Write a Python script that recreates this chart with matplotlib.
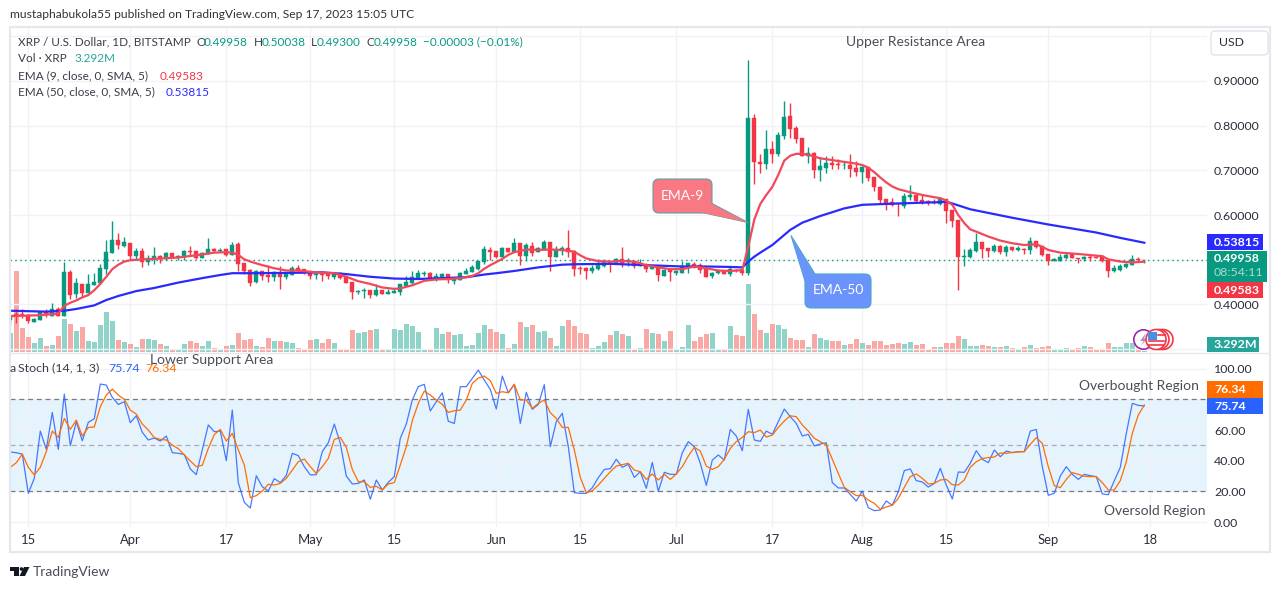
import matplotlib
matplotlib.use('Agg')
import matplotlib.pyplot as plt
import numpy as np
import pandas as pd
from matplotlib.patches import Circle, FancyBboxPatch, Polygon, Rectangle

plt.rcParams['font.family'] = ['Lato', 'DejaVu Sans']

GREEN = '#089981'
RED = '#f23645'
GRID = '#f1f2f6'
TEXT = '#3a3e49'

# daily candles, 12 Mar to 17 Sep 2023
opens = [.366, .378, .378, .376, .361, .365, .384, .375, .389, .374, .472, .423, .446, .426, .443, .448, .479, .515, .544, .531,
         .538, .508, .520, .495, .502, .508, .502, .515, .506, .506, .520, .520, .504, .513, .524, .520, .524, .511, .535, .493,
         .477, .450, .475, .466, .461, .470, .461, .466, .482, .479, .475, .466, .468, .468, .461, .470, .461, .450, .428, .430,
         .432, .421, .432, .423, .426, .428, .441, .448, .459, .468, .470, .457, .459, .468, .452, .455, .468, .473, .479, .495,
         .522, .520, .506, .526, .517, .538, .508, .531, .517, .522, .540, .506, .520, .526, .520, .482, .482, .474, .479, .486,
         .495, .493, .502, .497, .497, .486, .488, .479, .486, .464, .477, .470, .470, .482, .491, .488, .479, .464, .470, .474,
         .468, .477, .477, .470, .817, .719, .714, .748, .737, .777, .822, .795, .773, .732, .739, .701, .705, .717, .714, .712,
         .712, .705, .696, .708, .685, .663, .636, .629, .627, .620, .640, .645, .634, .632, .630, .625, .636, .611, .589, .506,
         .506, .520, .540, .526, .520, .531, .517, .529, .523, .525, .522, .542, .531, .513, .497, .497, .504, .513, .505, .502,
         .506, .506, .508, .499, .475, .477, .484, .488, .501, .49958]
highs = [.378, .389, .390, .379, .370, .385, .391, .403, .394, .495, .477, .459, .446, .468, .470, .491, .544, .587, .560, .551,
         .538, .526, .526, .511, .529, .511, .517, .515, .511, .522, .531, .520, .517, .549, .526, .526, .524, .540, .540, .493,
         .479, .477, .475, .488, .475, .486, .473, .486, .488, .479, .475, .473, .473, .470, .473, .473, .466, .450, .432, .437,
         .432, .446, .432, .435, .435, .446, .464, .475, .477, .475, .473, .470, .470, .468, .459, .473, .482, .488, .497, .531,
         .529, .520, .529, .526, .549, .538, .538, .540, .529, .544, .540, .531, .531, .567, .522, .486, .484, .488, .502, .502,
         .497, .504, .529, .504, .497, .502, .493, .486, .486, .479, .479, .477, .497, .493, .495, .493, .486, .473, .477, .477,
         .484, .479, .479, .947, .826, .737, .790, .766, .786, .855, .851, .799, .773, .752, .741, .730, .732, .732, .726, .719,
         .737, .721, .710, .708, .685, .665, .636, .638, .627, .650, .667, .645, .645, .634, .636, .637, .636, .611, .589, .524,
         .526, .560, .540, .526, .535, .533, .533, .529, .531, .526, .551, .542, .531, .513, .504, .513, .515, .513, .505, .508,
         .511, .508, .508, .502, .488, .491, .493, .511, .506, .50038]
lows = [.354, .359, .369, .358, .361, .365, .373, .374, .374, .374, .412, .414, .416, .426, .443, .446, .468, .515, .524, .529,
        .499, .502, .484, .488, .491, .493, .499, .504, .499, .499, .508, .502, .504, .513, .517, .517, .508, .511, .475, .468,
        .441, .448, .455, .450, .452, .435, .457, .466, .473, .468, .457, .457, .452, .457, .457, .457, .448, .412, .423, .414,
        .414, .419, .423, .423, .426, .421, .441, .446, .457, .464, .455, .452, .457, .448, .446, .455, .468, .473, .477, .491,
        .499, .504, .506, .517, .517, .488, .497, .508, .517, .522, .475, .506, .511, .506, .464, .468, .457, .470, .477, .484,
        .473, .493, .484, .486, .482, .486, .473, .479, .452, .464, .452, .466, .470, .470, .482, .470, .461, .459, .468, .468,
        .464, .473, .466, .466, .670, .694, .703, .717, .732, .770, .773, .761, .732, .717, .683, .676, .694, .703, .703, .703,
        .685, .688, .672, .676, .654, .627, .612, .620, .598, .616, .634, .627, .625, .623, .625, .623, .582, .573, .432, .486,
        .504, .517, .504, .506, .517, .513, .508, .520, .520, .513, .513, .526, .509, .488, .497, .497, .502, .504, .493, .497,
        .497, .503, .495, .462, .473, .475, .482, .488, .497, .49300]
closes = [.376, .376, .376, .362, .367, .383, .376, .389, .374, .472, .421, .447, .426, .446, .450, .482, .517, .544, .533, .540,
          .508, .520, .495, .504, .508, .502, .515, .504, .508, .520, .517, .504, .515, .524, .520, .522, .511, .533, .491, .475,
          .448, .475, .464, .461, .473, .461, .470, .482, .475, .470, .464, .468, .466, .464, .470, .459, .448, .428, .430, .432,
          .421, .432, .423, .428, .430, .446, .450, .461, .470, .470, .457, .464, .468, .455, .457, .470, .475, .484, .497, .524,
          .518, .506, .526, .517, .538, .508, .533, .515, .526, .540, .506, .522, .526, .517, .479, .479, .475, .482, .488, .497,
          .493, .502, .493, .499, .486, .493, .479, .486, .466, .477, .473, .475, .486, .493, .484, .477, .461, .470, .474, .468,
          .479, .475, .470, .817, .719, .714, .748, .737, .779, .819, .793, .770, .732, .739, .701, .710, .717, .712, .713, .713,
          .703, .696, .708, .683, .663, .634, .625, .623, .625, .643, .645, .632, .629, .627, .627, .636, .609, .587, .506, .508,
          .522, .540, .524, .520, .531, .517, .529, .522, .527, .523, .542, .529, .511, .497, .502, .506, .511, .504, .502, .506,
          .504, .505, .497, .475, .482, .486, .491, .502, .499, .49958]

# volume in millions
volumes = [62, 267, 79, 50, 29, 46, 20, 23, 53, 109, 92, 69, 83, 36, 33, 89, 132, 102, 40, 33,
           26, 17, 43, 43, 40, 26, 20, 10, 10, 26, 36, 30, 20, 36, 13, 10, 20, 23, 63, 40,
           43, 20, 17, 46, 36, 36, 33, 30, 13, 10, 40, 43, 30, 43, 30, 10, 10, 73, 63, 66,
           73, 76, 7, 10, 76, 73, 92, 86, 66, 10, 10, 79, 59, 66, 56, 59, 20, 23, 63, 89,
           76, 66, 59, 13, 26, 99, 83, 89, 66, 69, 46, 20, 86, 106, 86, 63, 59, 13, 20, 33,
           56, 69, 59, 53, 10, 13, 76, 63, 59, 36, 69, 7, 17, 89, 36, 50, 59, 63, 7, 10,
           86, 56, 53, 224, 125, 73, 62, 92, 89, 76, 46, 40, 40, 15, 59, 46, 40, 35, 37, 22,
           26, 44, 29, 22, 37, 35, 22, 26, 31, 26, 33, 22, 26, 11, 15, 15, 30, 30, 53, 43,
           20, 20, 23, 20, 17, 17, 20, 13, 10, 17, 23, 13, 17, 20, 10, 10, 13, 10, 13, 20,
           17, 7, 10, 30, 17, 17, 30, 30, 7, 3.292]

ema9_days = [0, 5, 8, 9, 10, 11, 12, 13, 14, 15, 16, 17, 18, 19, 20, 22, 24, 28, 32, 34, 36, 37, 38, 39, 40, 41, 42, 44, 46, 48,
             50, 52, 54, 56, 58, 60, 62, 64, 65, 67, 69, 71, 73, 75, 77, 78, 79, 80, 81, 82, 83, 84, 86, 88, 90, 92, 94, 95, 96, 98,
             100, 102, 104, 106, 108, 110, 112, 114, 116, 118, 120, 122, 123, 124, 125, 126, 127, 128, 129, 130, 131, 132, 133, 135,
             138, 141, 142, 143, 144, 145, 146, 147, 148, 150, 152, 154, 155, 156, 157, 158, 159, 160, 161, 163, 165, 167, 169, 171,
             172, 173, 175, 178, 182, 183, 185, 187, 189]
ema9_vals = [.374, .376, .380, .397, .404, .409, .416, .421, .432, .446, .462, .479, .489, .496, .499, .501, .502, .505, .512, .516,
             .517, .516, .511, .501, .496, .492, .488, .481, .476, .476, .473, .471, .470, .462, .452, .446, .438, .435, .436, .443,
             .453, .456, .457, .459, .464, .470, .480, .488, .495, .502, .511, .517, .523, .522, .523, .522, .518, .510, .503, .497,
             .496, .497, .496, .488, .483, .479, .479, .485, .481, .476, .475, .477, .530, .590, .625, .645, .663, .690, .722, .733,
             .737, .737, .735, .727, .721, .715, .712, .706, .696, .684, .673, .664, .658, .651, .645, .640, .638, .632, .623, .600,
             .582, .568, .563, .552, .543, .537, .533, .535, .529, .522, .516, .513, .508, .501, .496, .494, .49583]

ema50_days = [0, 3, 6, 9, 11, 14, 16, 18, 21, 24, 28, 32, 35, 37, 41, 48, 52, 56, 60, 64, 68, 72, 76, 79, 81, 84, 88, 92, 94, 100,
              106, 112, 116, 120, 122, 123, 124, 125, 127, 130, 132, 135, 139, 142, 148, 155, 156, 157, 160, 167, 173, 181, 185, 189]
ema50_vals = [.386, .385, .384, .386, .390, .398, .410, .419, .430, .437, .449, .459, .466, .470, .470, .471, .472, .468, .462, .458,
              .457, .459, .461, .467, .470, .475, .483, .489, .490, .491, .488, .485, .485, .484, .483, .496, .507, .516, .533, .567,
              .583, .598, .615, .623, .626, .629, .630, .626, .613, .594, .579, .561, .549, .53815]

stoch_k = [45.7, 45.2, 44.3, 18.7, 28.5, 59.3, 47.4, 71.5, 47.4, 83.5, 49.8, 65.4, 53, 65, 67.4, 90, 89.3, 81.3, 76.7, 78.5,
           64.8, 69.3, 58.5, 53.5, 54.8, 52.8, 56.1, 45.2, 44.8, 44.1, 34.6, 30.9, 47, 63.3, 58.9, 59.3, 40, 73, 25.7, 12.8,
           9.1, 30.2, 23, 20.2, 28.3, 25.7, 30.4, 44.8, 43.3, 36.1, 30.7, 30.9, 45.9, 51.7, 63.9, 51.3, 30, 24.8, 25.2, 27.4,
           14.8, 27.4, 20.9, 25.9, 29.6, 54.6, 63.9, 79.6, 88.3, 89.8, 72.4, 78.5, 84.3, 65.7, 64.3, 88.3, 88.3, 93.7, 99.1, 92.6,
           86.5, 73.7, 95.2, 84.3, 89.8, 64.3, 84.6, 73.5, 76.7, 89.6, 49.1, 65.4, 70.9, 49.1, 19.1, 18.7, 18.7, 22.4, 28.9, 34.3,
           34.8, 40.9, 35.7, 37.6, 29.1, 32.8, 22, 38.9, 20, 32.4, 31.1, 31.1, 45.2, 52.4, 49.1, 38.3, 23.9, 40.4, 43.7, 40.4,
           60.4, 56.1, 46.5, 73.5, 53.5, 52.6, 59.3, 57.2, 65.4, 73.7, 68.7, 64.3, 56.1, 57.2, 49.6, 50.9, 51.7, 25.7, 22.2, 22.2,
           18, 13.7, 20.2, 9.3, 7.4, 7.8, 13.7, 10.9, 19.8, 33.5, 34.6, 27, 26.1, 22.8, 25.2, 35, 24.1, 15, 32.6, 32.4,
           38.3, 46.5, 40.9, 38.7, 47, 42.6, 46.3, 45.2, 45.9, 45.9, 59.3, 60.4, 36.1, 17.4, 18.7, 30, 36.1, 31.1, 27.8, 31.1,
           30.2, 29.6, 18.3, 17.8, 26.9, 35.7, 57.8, 77.4, 76.1, 75.74]
stoch_d = [35.7, 38.7, 44.3, 35.7, 30.7, 35.7, 45.9, 59.3, 55.2, 67.6, 60.4, 66.5, 56.1, 61.7, 62, 75.2, 82.8, 86.7, 82.8, 80,
           73, 70.4, 63.9, 60, 55, 53.9, 53.5, 50.2, 47.8, 43.7, 39.8, 36.1, 37, 48, 57, 60.4, 52.8, 57.8, 47, 37.2,
           15.9, 17.2, 20.2, 24.6, 24.1, 25.2, 28.5, 33.9, 39.3, 41.1, 36.1, 31.7, 36.1, 41.5, 53.9, 55.2, 48.7, 34.3, 26.3, 26.3,
           22.6, 23.3, 20.9, 24.8, 25.7, 37.2, 49.1, 66.1, 77.4, 85.4, 82.8, 79.6, 76.7, 71.5, 72.6, 73, 79.6, 90.4, 93.9, 95.2,
           92.2, 83.9, 85, 84.3, 89.8, 79.6, 79.6, 74.1, 77.4, 79.6, 71.3, 67.6, 61.7, 61.7, 47, 29.1, 19.1, 20.4, 24.1, 28.5,
           32.8, 36.5, 37.4, 38.3, 33.9, 32.8, 27.8, 31.3, 27.4, 31.1, 27.8, 31.3, 36.1, 43, 48.7, 46.3, 36.5, 34.3, 36.1, 40.9,
           48, 52.4, 55.2, 58.9, 58.3, 60, 55.4, 56.7, 61.7, 65.9, 69.3, 68.7, 63.3, 59.3, 54.6, 52.4, 50.2, 40.9, 31.7, 22.6,
           19.8, 17.2, 17.4, 14.3, 12.2, 8.3, 9.8, 10.9, 15.4, 22.6, 29.6, 31.3, 28.5, 24.8, 25.2, 27.4, 27.8, 24.3, 24.1, 27.4,
           35.7, 39.3, 41.5, 42, 42.4, 45, 44.8, 45.4, 45.7, 45.9, 50.7, 55, 51.3, 36.1, 23.7, 22.4, 27.8, 32.2, 31.1, 29.8,
           29.6, 29.6, 25.7, 20.9, 20.9, 27, 39.3, 57.8, 69.8, 76.34]

tick_dates = ['2023-03-15', '2023-04-01', '2023-04-17', '2023-05-01', '2023-05-15', '2023-06-01', '2023-06-15',
              '2023-07-01', '2023-07-17', '2023-08-01', '2023-08-15', '2023-09-01', '2023-09-18']
tick_labels = ['15', 'Apr', '17', 'May', '15', 'Jun', '15', 'Jul', '17', 'Aug', '15', 'Sep', '18']
price_ticks = [.3, .4, .5, .6, .7, .8, .9, 1.0]
price_tick_labels = ['', '0.40000', '', '0.60000', '0.70000', '0.80000', '0.90000', '']
stoch_ticks = [0, 20, 40, 60, 100]

W, H = 1281, 589
fig = plt.figure(figsize=(W / 100, H / 100), dpi=100, facecolor='white')


def pane(left, top, right, bottom, **kw):
    return fig.add_axes([left / W, 1 - bottom / H, (right - left) / W, (bottom - top) / H], **kw)


x = np.arange(len(closes))
ticks_x = [(pd.Timestamp(d) - pd.Timestamp('2023-03-12')).days for d in tick_dates]
xlim = (-0.05, 199.45)

ax_vol = pane(10, 27, 1207, 352)
ax = pane(10, 27, 1207, 352)
ax_st = pane(10, 352, 1207, 527)
ax.patch.set_alpha(0)

opens_a, closes_a = np.array(opens), np.array(closes)
up = closes_a >= opens_a
colors = np.where(up, GREEN, RED)

ax_vol.bar(x, volumes, width=0.83, color=np.where(up, '#8fd3c9', '#f8a9a6'), linewidth=0)
ax_vol.set_ylim(0, 1072)
ax_vol.set_xlim(xlim)
ax_vol.set_xticks(ticks_x)
ax_vol.set_yticks([])
ax_vol.tick_params(length=0, labelbottom=False)
ax_vol.grid(axis='x', color=GRID, lw=1)
ax_vol.set_axisbelow(True)

ax.vlines(x, lows, highs, color=colors, lw=1, zorder=3)
ax.bar(x, np.abs(closes_a - opens_a), bottom=np.minimum(opens_a, closes_a), width=0.72,
       color=colors, edgecolor=colors, linewidth=0.3, zorder=3)
ax.plot(ema50_days, ema50_vals, color='#2a2aff', lw=1.6, zorder=4)
ax.plot(ema9_days, ema9_vals, color='#f2485a', lw=1.6, zorder=5)
ax.axhline(.49958, color=GREEN, lw=1, ls=(0, (1, 2.5)), zorder=2)
ax.set_xlim(xlim)
ax.set_ylim(.2937, 1.0208)
ax.set_xticks(ticks_x)
ax.tick_params(length=0, labelbottom=False)
ax.yaxis.tick_right()
ax.set_yticks(price_ticks)
ax.set_yticklabels(price_tick_labels, fontsize=8.9, color='#2a2e39')
ax.tick_params(axis='y', pad=5)
ax.grid(axis='y', color=GRID, lw=1)
ax.set_axisbelow(True)

ax_st.axhspan(20, 80, color='#e5f3fd', lw=0, zorder=0)
ax_st.plot(x, stoch_k, color='#2962ff', lw=0.9, alpha=0.85, zorder=3)
ax_st.plot(x, stoch_d, color='#ff6d00', lw=0.9, zorder=4)
for level, col in ((80, '#787b86'), (50, '#a9acb5'), (20, '#787b86')):
    ax_st.axhline(level, color=col, lw=0.9, ls=(0, (4, 3)), zorder=2)
ax_st.set_xlim(xlim)
ax_st.set_ylim(-3.26, 110.9)
ax_st.set_xticks(ticks_x)
ax_st.set_xticklabels(tick_labels, fontsize=9.4, color='#2a2e39')
ax_st.yaxis.tick_right()
ax_st.set_yticks(stoch_ticks)
ax_st.set_yticklabels(['%.2f' % t for t in stoch_ticks], fontsize=8.9, color='#2a2e39')
ax_st.tick_params(length=0)
ax_st.tick_params(axis='y', pad=5)
ax_st.tick_params(axis='x', pad=5)
ax_st.grid(color=GRID, lw=1)
ax_st.set_axisbelow(True)

for a in (ax_vol, ax, ax_st):
    for s in a.spines.values():
        s.set_visible(False)

# everything around the panes is placed in image pixels
ov = fig.add_axes([0, 0, 1, 1], zorder=10)
ov.set_xlim(0, W)
ov.set_ylim(H, 0)
ov.axis('off')
ov.patch.set_alpha(0)


def txt(px, py, s, color=TEXT, size=8.5, **kw):
    ov.text(px, py, s, color=color, fontsize=size, va='center', **kw)


ov.add_patch(Rectangle((9.5, 27), 1260, 525, fill=False, ec='#e6e8ef', lw=1.6))
ov.plot([10, 1270], [352.5, 352.5], color='#e6e8ef', lw=1)

txt(10, 15, 'mustaphabukola55 published on TradingView.com, Sep 17, 2023 15:05 UTC', color='#333333', size=8.65)

legend_green = '#089981'
txt(18, 42, 'XRP / U.S. Dollar, 1D, BITSTAMP')
for px, label, val_x, val in ((196.5, 'O', 204, '0.49958'), (254, 'H', 262, '0.50038'),
                              (311, 'L', 317, '0.49300'), (366.5, 'C', 374, '0.49958')):
    txt(px, 42, label)
    txt(val_x, 42, val, color=legend_green)
txt(423, 42, '\u22120.00003 (\u22120.01%)', color=legend_green)
txt(18, 59, 'Vol \u00b7 XRP')
txt(74, 59, '3.292M', color='#26a69a')
txt(18, 76, 'EMA (9, close, 0, SMA, 5)')
txt(160, 76, '0.49583', color=RED)
txt(18, 92, 'EMA (50, close, 0, SMA, 5)')
txt(166, 92, '0.53815', color='#2a2aff')

txt(10, 369, 'a', size=8.9)
txt(18, 368, 'Stoch (14, 1, 3)', size=8.9)
txt(108, 368, '75.74', color='#2962ff', size=8.9)
txt(145, 368, '76.34', color='#ff6d00', size=8.9)

for px, py, s in ((846, 42, 'Upper Resistance Area'), (150, 360, 'Lower Support Area'),
                  (1079, 386, 'Overbought Region'), (1104, 511, 'Oversold Region')):
    txt(px, py, s, color='#4a4d57', size=10)

# usd button
ov.add_patch(FancyBboxPatch((1211, 31), 57, 24, boxstyle='round,pad=0,rounding_size=4', fc='white', ec='#e0e3eb', lw=1))
txt(1219, 43, 'USD', color='#2a2e39', size=8.8)

# price labels on the axis
for top, bottom, right, col in ((234, 250, 1263, '#2a2aff'), (251, 282, 1267, GREEN), (282, 298, 1263, RED),
                                (337, 352, 1259, '#26a69a'), (381, 398, 1263, '#ff6d00'), (398, 414, 1263, '#2962ff')):
    ov.add_patch(Rectangle((1207, top), right - 1207, bottom - top, fc=col, ec='none'))
for py, s in ((242, '0.53815'), (259, '0.49958'), (290, '0.49583'), (344.5, '3.292M'), (389.5, '76.34'), (406, '75.74')):
    txt(1214, py, s, color='white', size=8.9, fontweight='bold')
txt(1214, 273, '08:54:11', color='#a5dcd1', size=8.9)

# callouts
ov.add_patch(Polygon([(700, 212), (748, 222.5), (711, 203)], fc='#f87984', ec='#5f9ea0', lw=0.8, zorder=3))
ov.add_patch(FancyBboxPatch((653, 179), 59, 34, boxstyle='round,pad=0,rounding_size=6', fc='#f87984', ec='#5f9ea0', lw=0.8, zorder=3))
ov.add_patch(Polygon([(700.5, 212.4), (748, 222.5), (711, 203.5), (705, 205)], fc='#f87984', ec='none', zorder=3))
txt(682.5, 195.5, 'EMA-9', color='white', size=10, ha='center', zorder=4)
ov.add_patch(Polygon([(805, 281), (791, 235.5), (815, 274)], fc='#6a94fb', ec='#4aa6c8', lw=0.8, zorder=3))
ov.add_patch(FancyBboxPatch((805, 274), 66, 34, boxstyle='round,pad=0,rounding_size=6', fc='#6a94fb', ec='#4aa6c8', lw=0.8, zorder=3))
ov.add_patch(Polygon([(806, 283), (791.5, 237), (814, 275), (812, 280)], fc='#6a94fb', ec='none', zorder=3))
txt(838, 290.5, 'EMA-50', color='white', size=10, ha='center', zorder=4)

# small news badge on the volume pane
ov.add_patch(Circle((1143.5, 339.5), 9.7, fc='white', ec='#9c27b0', lw=1.2))
ov.add_patch(Polygon([(1146, 333), (1140, 341), (1143.5, 341), (1141, 346), (1147, 338.5), (1144, 338.5)], fc='#b58ad0', ec='none'))
ov.add_patch(Circle((1163, 339.5), 10, fc='white', ec=RED, lw=1.2))
ov.add_patch(Circle((1159, 339.5), 10, fc='white', ec=RED, lw=1.2))
ov.add_patch(Circle((1156, 339.5), 10, fc='white', ec=RED, lw=1.2))
for py in (341, 345):
    ov.plot([1148.5, 1163.5], [py, py], color=RED, lw=1.2)
ov.plot([1158, 1164.5], [334.5, 334.5], color=RED, lw=1.2)
ov.add_patch(Rectangle((1148, 332), 9, 7.5, fc='#4a8fe7', ec='none'))

# logo
ov.add_patch(Polygon([(10, 567), (19, 567), (19, 576), (14, 576), (14, 570.5), (10, 570.5)], fc='#131722', ec='none'))
ov.add_patch(Circle((21.5, 569), 1.8, fc='#131722', ec='none'))
ov.add_patch(Polygon([(24, 567), (29.5, 567), (25, 576), (19.5, 576)], fc='#131722', ec='none'))
txt(33, 571.5, 'TradingView', color='#4a4d57', size=10)

fig.savefig('out.png', dpi=100, facecolor='white')
